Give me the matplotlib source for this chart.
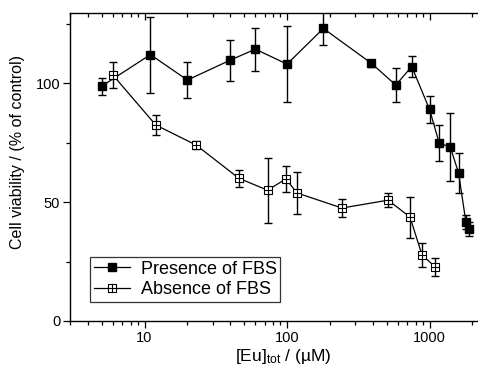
import numpy as np
import matplotlib
matplotlib.use("Agg")
import matplotlib.pyplot as plt
from matplotlib.path import Path
from matplotlib.ticker import LogLocator, NullFormatter, FixedLocator

plt.rcParams['font.family'] = ['Liberation Sans', 'DejaVu Sans']
plt.rcParams['mathtext.fontset'] = 'custom'
plt.rcParams['mathtext.rm'] = 'Liberation Sans'
plt.rcParams['mathtext.default'] = 'regular'

# Data: presence of FBS
pres_x = [5, 11, 20, 40, 60, 100, 180, 390, 580, 750, 1000, 1170, 1400, 1600, 1800, 1900]
pres_y = [98.7, 112, 101.3, 109.7, 114.3, 108, 123, 108.4, 99.2, 107, 89, 74.8, 73.1, 62.2, 41.6, 38.7]
pres_err = [3.5, 16, 7.5, 8.6, 9, 16, 7, 1.5, 7, 4.5, 5.7, 7.5, 14.3, 8.4, 3, 3]

# Data: absence of FBS
abs_x = [6, 12, 23, 46, 73, 98, 118, 243, 512, 730, 886, 1100]
abs_y = [103.4, 82.4, 74, 60, 55, 59.7, 53.8, 47.5, 50.8, 43.7, 27.7, 22.7]
abs_err = [5.5, 4.4, 1.5, 3.6, 13.7, 5.5, 9, 3.8, 3, 8.6, 5, 3.6]

labels = ["Presence of FBS", "Absence of FBS"]
xticks = [10, 100, 1000]
yticks = [0, 50, 100]

# square with cross marker
verts = [(-1, -1), (1, -1), (1, 1), (-1, 1), (-1, -1),
         (0, -1), (0, 1), (-1, 0), (1, 0)]
codes = [Path.MOVETO, Path.LINETO, Path.LINETO, Path.LINETO, Path.CLOSEPOLY,
         Path.MOVETO, Path.LINETO, Path.MOVETO, Path.LINETO]
boxcross = Path(verts, codes)

fig = plt.figure(figsize=(4.78, 3.65), dpi=100)
ax = fig.add_axes([70/478, 1-321/365, 427.5/478, 308/365])

ax.errorbar(pres_x, pres_y, yerr=pres_err, fmt='none', ecolor='black',
            elinewidth=1, capsize=2.6, capthick=1, zorder=2)
ax.errorbar(abs_x, abs_y, yerr=abs_err, fmt='none', ecolor='black',
            elinewidth=1, capsize=2.6, capthick=1, zorder=2)
l1, = ax.plot(pres_x, pres_y, color='black', lw=0.9, marker='s', markersize=6,
              markerfacecolor='black', markeredgecolor='black', zorder=3, label=labels[0])
l2, = ax.plot(abs_x, abs_y, color='black', lw=0.9, marker=boxcross, markersize=5.2,
              markerfacecolor='white', markeredgecolor='black', markeredgewidth=0.8,
              zorder=3, label=labels[1])

ax.set_xscale('log')
ax.set_xlim(3, 3000)
ax.set_ylim(0, 129.5)

ax.xaxis.set_major_locator(FixedLocator(xticks))
ax.set_xticklabels([str(v) for v in xticks])
ax.xaxis.set_minor_locator(LogLocator(base=10, subs=np.arange(2, 10)))
ax.xaxis.set_minor_formatter(NullFormatter())
ax.yaxis.set_major_locator(FixedLocator(yticks))
ax.yaxis.set_minor_locator(FixedLocator([25, 75, 125]))

ax.spines['right'].set_visible(False)
for s in ['left', 'bottom', 'top']:
    ax.spines[s].set_linewidth(1)

ax.tick_params(axis='x', which='both', bottom=True, top=True, direction='out',
               labelsize=10.5, pad=2.5, width=0.9)
ax.tick_params(axis='x', which='major', length=5)
ax.tick_params(axis='x', which='minor', length=3)
ax.tick_params(axis='y', which='both', left=True, right=False, direction='out',
               labelsize=10.5, pad=2, width=0.9)
ax.tick_params(axis='y', which='major', length=5)
ax.tick_params(axis='y', which='minor', length=3)
# top ticks inward
for t in ax.xaxis.get_major_ticks() + ax.xaxis.get_minor_ticks():
    t.tick2line.set_marker(3)

ax.set_xlabel('[Eu]$_{tot}$ / (µM)', fontsize=12.5, labelpad=1)
ax.set_ylabel('Cell viability / (% of control)', fontsize=11.5, labelpad=6)
ax.yaxis.set_label_coords(-0.105, 0.55)

leg = ax.legend(handles=[l1, l2], loc='lower left',
                bbox_to_anchor=(20/427.5, 19/308), borderaxespad=0,
                fontsize=13, frameon=True, fancybox=False, edgecolor='black',
                handlelength=2.0, handletextpad=0.6, labelspacing=0.2,
                borderpad=0.2, numpoints=1)
leg.get_frame().set_linewidth(0.9)

fig.savefig('out.png', dpi=100)
